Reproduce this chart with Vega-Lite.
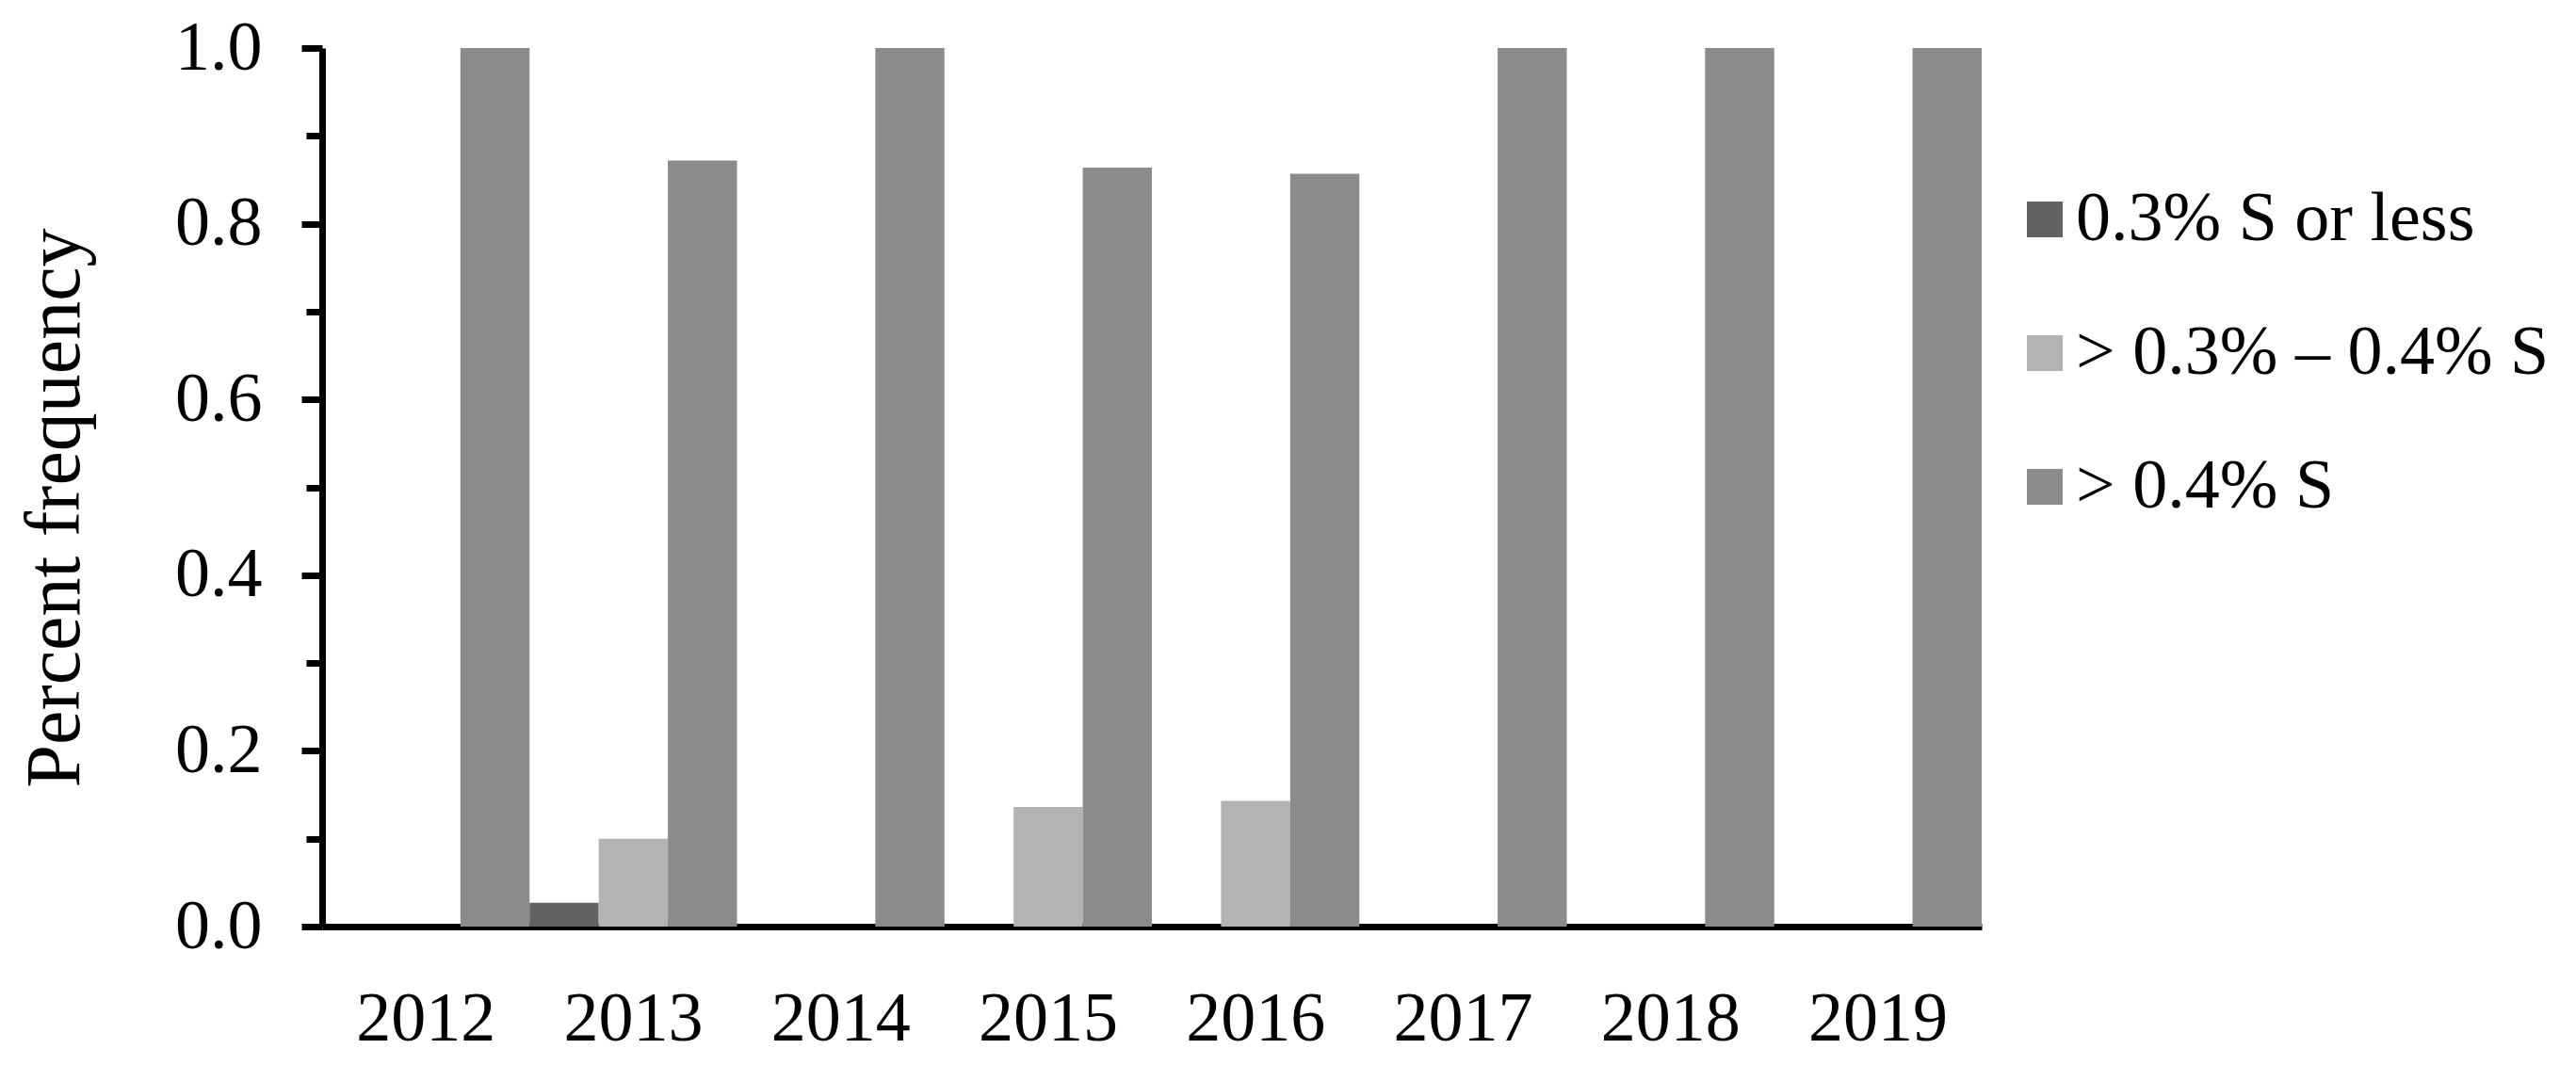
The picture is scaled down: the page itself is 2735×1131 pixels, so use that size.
{
  "$schema": "https://vega.github.io/schema/vega-lite/v6.json",
  "width": 1762,
  "height": 933,
  "autosize": "none",
  "padding": {"left": 342, "top": 51, "right": 631, "bottom": 147},
  "background": "white",
  "config": {
    "view": {"stroke": null},
    "font": "Liberation Serif"
  },
  "data": {
    "values": [
      {"year": "2012", "cat": "0.3% S or less", "value": 0},
      {"year": "2012", "cat": "> 0.3% – 0.4% S", "value": 0},
      {"year": "2012", "cat": "> 0.4% S", "value": 1.0},
      {"year": "2013", "cat": "0.3% S or less", "value": 0.027},
      {"year": "2013", "cat": "> 0.3% – 0.4% S", "value": 0.1},
      {"year": "2013", "cat": "> 0.4% S", "value": 0.872},
      {"year": "2014", "cat": "0.3% S or less", "value": 0},
      {"year": "2014", "cat": "> 0.3% – 0.4% S", "value": 0},
      {"year": "2014", "cat": "> 0.4% S", "value": 1.0},
      {"year": "2015", "cat": "0.3% S or less", "value": 0},
      {"year": "2015", "cat": "> 0.3% – 0.4% S", "value": 0.136},
      {"year": "2015", "cat": "> 0.4% S", "value": 0.864},
      {"year": "2016", "cat": "0.3% S or less", "value": 0},
      {"year": "2016", "cat": "> 0.3% – 0.4% S", "value": 0.143},
      {"year": "2016", "cat": "> 0.4% S", "value": 0.857},
      {"year": "2017", "cat": "0.3% S or less", "value": 0},
      {"year": "2017", "cat": "> 0.3% – 0.4% S", "value": 0},
      {"year": "2017", "cat": "> 0.4% S", "value": 1.0},
      {"year": "2018", "cat": "0.3% S or less", "value": 0},
      {"year": "2018", "cat": "> 0.3% – 0.4% S", "value": 0},
      {"year": "2018", "cat": "> 0.4% S", "value": 1.0},
      {"year": "2019", "cat": "0.3% S or less", "value": 0},
      {"year": "2019", "cat": "> 0.3% – 0.4% S", "value": 0},
      {"year": "2019", "cat": "> 0.4% S", "value": 1.0}
    ]
  },
  "mark": {"type": "bar"},
  "encoding": {
    "x": {
      "field": "year",
      "type": "nominal",
      "scale": {"paddingInner": 0, "paddingOuter": 0},
      "axis": {
        "title": null,
        "labelAngle": 0,
        "labelFont": "Liberation Serif",
        "labelFontSize": 74,
        "labelColor": "black",
        "labelPadding": 62,
        "ticks": false,
        "domainColor": "black",
        "domainWidth": 7
      }
    },
    "xOffset": {
      "field": "cat",
      "type": "nominal",
      "scale": {"domain": ["0.3% S or less", "> 0.3% – 0.4% S", "> 0.4% S"], "paddingInner": 0, "paddingOuter": 0}
    },
    "y": {
      "field": "value",
      "type": "quantitative",
      "scale": {"domain": [0, 1], "nice": false},
      "axis": {
        "title": "Percent frequency",
        "titleFont": "Liberation Serif",
        "titleFontSize": 82,
        "titleFontWeight": "normal",
        "titleColor": "black",
        "titleAngle": -90,
        "titleBaseline": "alphabetic",
        "titleAlign": "center",
        "titleX": -259,
        "titleY": 488,
        "values": [0, 0.1, 0.2, 0.3, 0.4, 0.5, 0.6, 0.7, 0.8, 0.9, 1.0],
        "labelExpr": "round(datum.value * 10) % 2 == 0 ? format(datum.value, '.1f') : ''",
        "labelFont": "Liberation Serif",
        "labelFontSize": 74,
        "labelColor": "black",
        "labelPadding": 42,
        "grid": false,
        "tickColor": "black",
        "tickWidth": 7,
        "tickSize": {"condition": {"test": "round(datum.value * 10) % 2 == 0", "value": 22}, "value": 17},
        "domainColor": "black",
        "domainWidth": 7
      }
    },
    "color": {
      "field": "cat",
      "type": "nominal",
      "scale": {
        "domain": ["0.3% S or less", "> 0.3% – 0.4% S", "> 0.4% S"],
        "range": ["#626262", "#b3b3b3", "#8b8b8b"]
      },
      "legend": {
        "title": null,
        "orient": "none",
        "legendX": 1792,
        "legendY": 145,
        "padding": 0,
        "symbolType": "square",
        "symbolSize": 1444,
        "symbolStrokeWidth": 0,
        "symbolOpacity": 1,
        "labelFont": "Liberation Serif",
        "labelFontSize": 74,
        "labelColor": "black",
        "labelOffset": -4,
        "labelLimit": 0,
        "rowPadding": 68
      }
    }
  }
}
